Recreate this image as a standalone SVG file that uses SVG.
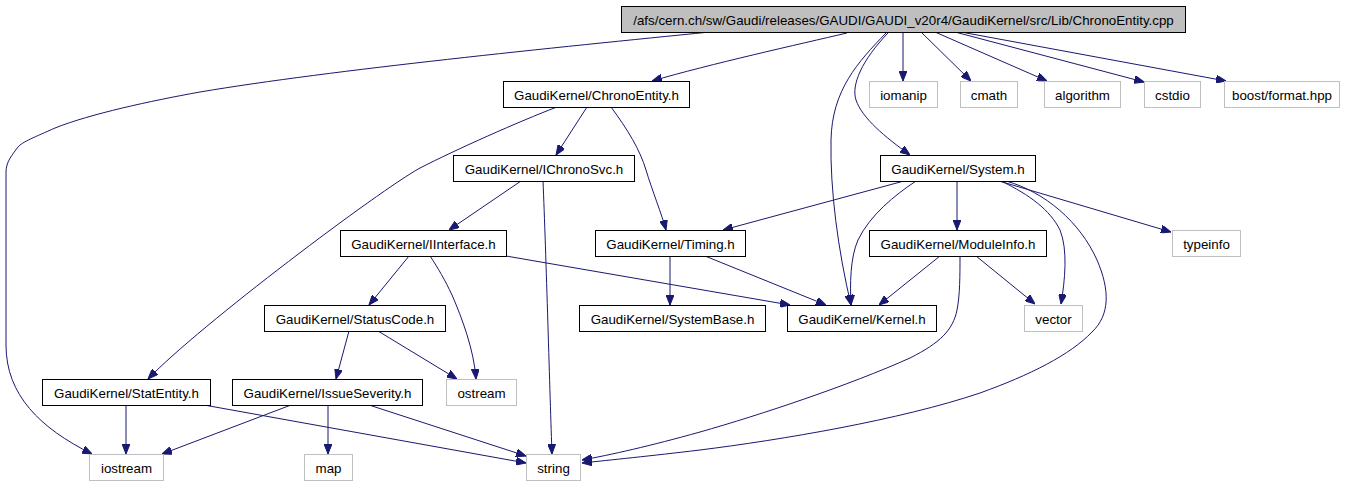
<svg xmlns="http://www.w3.org/2000/svg" width="1352" height="485" viewBox="0 0 1352 485">
<style>
.n rect{fill:#ffffff;stroke:#000000;stroke-width:1}
.s rect{fill:#ffffff;stroke:#bfbfbf;stroke-width:1}
.r rect{fill:#bfbfbf;stroke:#000000;stroke-width:1}
text{font-family:"Liberation Sans",Arial,sans-serif;font-size:13.33px;fill:#000000;text-anchor:middle}
.e path{fill:none;stroke:#191970;stroke-width:1;marker-end:url(#ah)}
</style>
<defs>
<marker id="ah" viewBox="0 0 10 8" refX="10" refY="4" markerWidth="10" markerHeight="8" markerUnits="userSpaceOnUse" orient="auto">
<path d="M0,0 L10,4 L0,8 z" fill="#191970" stroke="#191970" stroke-width="1"/>
</marker>
</defs>
<rect x="0" y="0" width="1352" height="485" fill="#ffffff"/>
<g id="edges" class="e">
<path d="M710,32 C560,47 330,70 200,92 C150,101 90,114 55,128 C35,137 22,142 18,147 C12,155 6,162 6,172 L6,345 C6,395 40,428 92,454"/>
<path d="M847,33 C800,44 710,64 652,81"/>
<path d="M886,33 C858,62 832,90 831,140 C830,190 838,250 851,305"/>
<path d="M888,33 C862,60 851,85 856,100 C862,118 885,137 910,155"/>
<path d="M903,32 L903,81"/>
<path d="M921,32 L971,81"/>
<path d="M935,32 L1047,81"/>
<path d="M955,32 L1144,82"/>
<path d="M961,32 L1226,81"/>
<path d="M557,107 C520,121 455,150 420,168 C380,190 200,325 148,379"/>
<path d="M587,107 L556,155"/>
<path d="M611,107 C628,130 640,150 646,170 C652,190 662,215 666,230"/>
<path d="M521,181 L449,230"/>
<path d="M543,181 C546,250 550,400 552,454"/>
<path d="M409,256 L369,305"/>
<path d="M430,256 C438,268 445,280 452,295 C462,318 474,350 476,379"/>
<path d="M506,256 L790,305"/>
<path d="M670,256 L670,305"/>
<path d="M705,256 L826,305"/>
<path d="M349,331 L336,379"/>
<path d="M378,331 L457,379"/>
<path d="M126,405 L126,454"/>
<path d="M204,405 L526,463"/>
<path d="M291,405 L162,454"/>
<path d="M328,405 L328,454"/>
<path d="M369,405 L526,456"/>
<path d="M904,181 L723,230"/>
<path d="M916,181 C895,195 870,215 858,240 C850,258 850,285 851,305"/>
<path d="M957,181 L957,230"/>
<path d="M999,181 L1171,232"/>
<path d="M1001,181 C1030,195 1050,210 1060,230 C1068,250 1065,280 1061,304"/>
<path d="M1006,181 C1045,192 1080,222 1097,260 C1110,290 1110,315 1092,332 C1070,355 1030,375 980,393 C900,420 780,440 700,450 C650,456 610,460 582,463"/>
<path d="M960,256 C960,275 960,295 957,310 C953,330 940,343 910,358 C850,385 760,415 700,432 C650,446 610,455 582,460"/>
<path d="M940,256 L879,305"/>
<path d="M976,256 L1035,304"/>
</g>
<g id="root" class="r"><rect x="621.5" y="6.5" width="564" height="26"/><text x="903.5" y="24.5">/afs/cern.ch/sw/Gaudi/releases/GAUDI/GAUDI_v20r4/GaudiKernel/src/Lib/ChronoEntity.cpp</text></g>
<g id="chronoentity_h" class="n"><rect x="503.5" y="81.5" width="186" height="26"/><text x="596.5" y="99.5">GaudiKernel/ChronoEntity.h</text></g>
<g id="iomanip" class="s"><rect x="869.5" y="81.5" width="68" height="26"/><text x="903.5" y="99.5">iomanip</text></g>
<g id="cmath" class="s"><rect x="960.5" y="81.5" width="57" height="26"/><text x="989" y="99.5">cmath</text></g>
<g id="algorithm" class="s"><rect x="1044.5" y="81.5" width="76" height="26"/><text x="1082.5" y="99.5">algorithm</text></g>
<g id="cstdio" class="s"><rect x="1144.5" y="81.5" width="56" height="26"/><text x="1172.5" y="99.5">cstdio</text></g>
<g id="boost_format" class="s"><rect x="1224.5" y="81.5" width="115" height="26"/><text x="1282" y="99.5">boost/format.hpp</text></g>
<g id="ichronosvc_h" class="n"><rect x="453.5" y="155.5" width="181" height="26"/><text x="544" y="173.5">GaudiKernel/IChronoSvc.h</text></g>
<g id="system_h" class="n"><rect x="880.5" y="155.5" width="155" height="26"/><text x="958" y="173.5">GaudiKernel/System.h</text></g>
<g id="iinterface_h" class="n"><rect x="340.5" y="230.5" width="166" height="26"/><text x="423.5" y="248.5">GaudiKernel/IInterface.h</text></g>
<g id="timing_h" class="n"><rect x="595.5" y="230.5" width="150" height="26"/><text x="670.5" y="248.5">GaudiKernel/Timing.h</text></g>
<g id="moduleinfo_h" class="n"><rect x="869.5" y="230.5" width="177" height="26"/><text x="958" y="248.5">GaudiKernel/ModuleInfo.h</text></g>
<g id="typeinfo" class="s"><rect x="1172.5" y="230.5" width="68" height="26"/><text x="1206.5" y="248.5">typeinfo</text></g>
<g id="statuscode_h" class="n"><rect x="264.5" y="305.5" width="181" height="26"/><text x="355" y="323.5">GaudiKernel/StatusCode.h</text></g>
<g id="systembase_h" class="n"><rect x="579.5" y="305.5" width="186" height="26"/><text x="672.5" y="323.5">GaudiKernel/SystemBase.h</text></g>
<g id="kernel_h" class="n"><rect x="787.5" y="305.5" width="149" height="26"/><text x="862" y="323.5">GaudiKernel/Kernel.h</text></g>
<g id="vector" class="s"><rect x="1024.5" y="305.5" width="58" height="26"/><text x="1053.5" y="323.5">vector</text></g>
<g id="statentity_h" class="n"><rect x="42.5" y="379.5" width="168" height="26"/><text x="126.5" y="397.5">GaudiKernel/StatEntity.h</text></g>
<g id="issueseverity_h" class="n"><rect x="232.5" y="379.5" width="190" height="26"/><text x="327.5" y="397.5">GaudiKernel/IssueSeverity.h</text></g>
<g id="ostream" class="s"><rect x="446.5" y="379.5" width="70" height="26"/><text x="481.5" y="397.5">ostream</text></g>
<g id="iostream" class="s"><rect x="89.5" y="454.5" width="74" height="26"/><text x="126.5" y="472.5">iostream</text></g>
<g id="map" class="s"><rect x="304.5" y="454.5" width="48" height="26"/><text x="328.5" y="472.5">map</text></g>
<g id="string" class="s"><rect x="526.5" y="454.5" width="54" height="26"/><text x="553.5" y="472.5">string</text></g>
</svg>
